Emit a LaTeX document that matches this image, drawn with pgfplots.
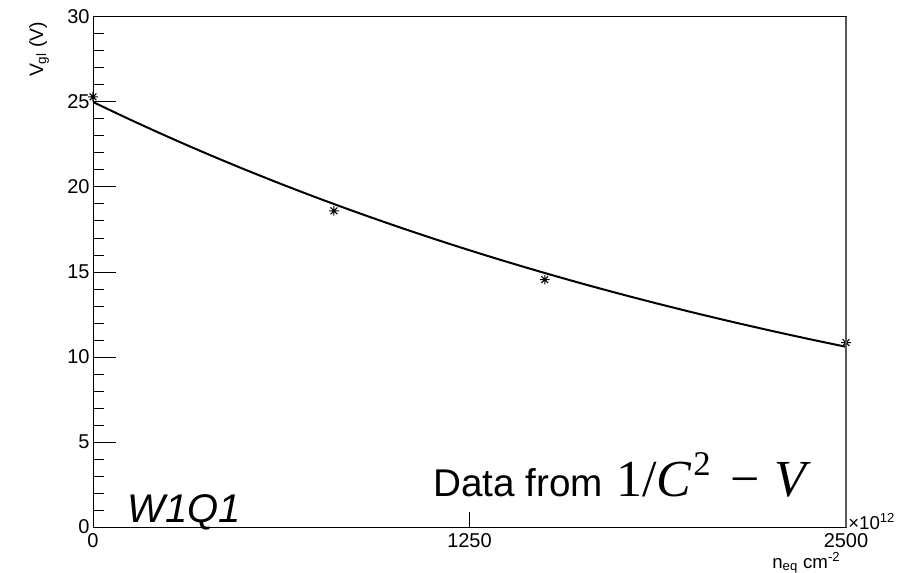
\documentclass[border=0pt]{standalone}
\usepackage{fontspec}
\setmainfont{Liberation Sans}
\newfontfamily\timesfont{Liberation Serif}
\usepackage{pgfplots}
\pgfplotsset{compat=1.18}
\pgfdeclareplotmark{star8}{%
  \pgfpathmoveto{\pgfpointpolar{0}{\pgfplotmarksize}}\pgfpathlineto{\pgfpointpolar{180}{\pgfplotmarksize}}%
  \pgfpathmoveto{\pgfpointpolar{90}{\pgfplotmarksize}}\pgfpathlineto{\pgfpointpolar{270}{\pgfplotmarksize}}%
  \pgfpathmoveto{\pgfpointpolar{45}{\pgfplotmarksize}}\pgfpathlineto{\pgfpointpolar{225}{\pgfplotmarksize}}%
  \pgfpathmoveto{\pgfpointpolar{135}{\pgfplotmarksize}}\pgfpathlineto{\pgfpointpolar{315}{\pgfplotmarksize}}%
  \pgfusepathqstroke}
\begin{document}
\begin{tikzpicture}[x=0.75pt,y=0.75pt]
\useasboundingbox (0,0) rectangle (897,572);
\begin{axis}[
  at={(69.75pt,33.75pt)}, anchor=south west,
  scale only axis, width=564.75pt, height=382.5pt,
  xmin=0, xmax=2500, ymin=0, ymax=30,
  xtick={0,1250,2500}, ytick={0,5,10,15,20,25,30},
  minor y tick num=4,
  scaled x ticks=false,
  tick align=inside, tick pos=left,
  major tick length=17pt, minor tick length=8.5pt,
  xtick style={/pgfplots/major tick length=11.5pt},
  tick style={black, line width=0.75pt},
  axis line style={black, line width=0.75pt},
  /pgf/number format/1000 sep={},
  /pgf/number format/assume math mode=true,
  tick label style={font=\fontsize{15}{17}\selectfont},
  yticklabel style={xshift=1pt},
  xticklabel style={yshift=-1.5pt},
  clip mode=individual,
]
\addplot[black, line width=1.5pt, smooth] coordinates {
 (0,25.000) (125,23.950) (250,22.945) (375,21.981) (500,21.058)
 (625,20.174) (750,19.327) (875,18.515) (1000,17.738) (1125,16.993)
 (1250,16.279) (1375,15.596) (1500,14.941) (1625,14.313) (1750,13.712)
 (1875,13.137) (2000,12.585) (2125,12.057) (2250,11.550) (2375,11.065)
 (2500,10.600)};
\addplot[only marks, mark=star8, mark size=3.6pt, black, line width=0.8pt] coordinates {
 (0,25.3) (800,18.6) (1500,14.55) (2500,10.85)};
\draw[black!65, line width=1.5pt] (rel axis cs:1,0) -- (rel axis cs:1,1);
\end{axis}
\node[rotate=90, anchor=base east, font=\fontsize{14.5}{16}\selectfont] at (43,555) {V\textsubscript{gl} (V)};
\node[anchor=base east, font=\fontsize{14}{16}\selectfont] at (845,4) {n\textsubscript{eq} cm\textsuperscript{-2}};
\node[anchor=base west, inner sep=0pt, font=\fontsize{14}{16}\selectfont] at (848,43) {×10\textsuperscript{12}};
\node[anchor=base west, inner sep=0pt, font=\itshape\fontsize{30}{33}\selectfont] at (127,50) {W1Q1};
\node[anchor=base west, inner sep=0pt, font=\fontsize{29}{32}\selectfont] at (433,75) {Data from};
\node[anchor=base west, inner sep=0pt, font=\timesfont\fontsize{39}{42}\selectfont] at (616,75) {1/\textit{C}\kern0.03em\raisebox{0.42em}{\fontsize{26}{28}\selectfont 2}\hspace{0.38em}−\hspace{0.28em}\textit{V}};
\end{tikzpicture}
\end{document}
